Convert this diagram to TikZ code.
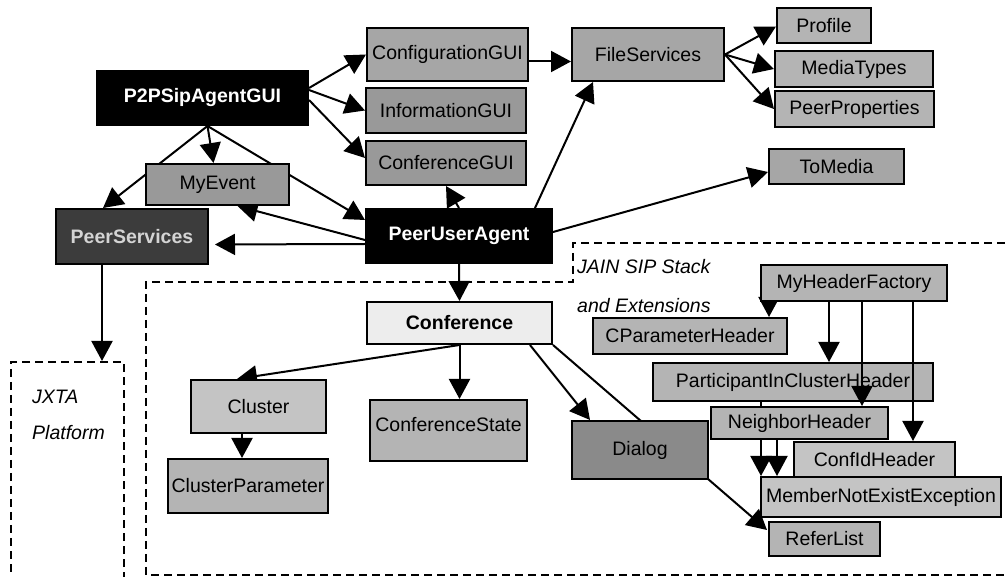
\documentclass[tikz,border=0pt]{standalone}
\usepackage{fontspec}
\setmainfont{Liberation Sans}
\usetikzlibrary{arrows.meta,calc}
\pgfdeclarelayer{background}
\pgfdeclarelayer{foreground}
\pgfsetlayers{background,main,foreground}
\newcommand\dfont{\fontsize{19.5}{23}\selectfont}
\definecolor{gA}{HTML}{A6A6A6}
\definecolor{gB}{HTML}{999999}
\definecolor{gC}{HTML}{B4B4B4}
\definecolor{gD}{HTML}{8A8A8A}
\definecolor{gE}{HTML}{C4C4C4}
\definecolor{gF}{HTML}{EDEDED}
\definecolor{gDark}{HTML}{3C3C3C}
\definecolor{gText}{HTML}{D4D4D4}
\tikzset{
  box/.style={draw=black, line width=2pt, rectangle, inner sep=0pt, font=\dfont},
  blackbox/.style={box, fill=black, text=white, font=\dfont\bfseries},
  arr/.style={-{Triangle[length=20pt,width=21pt]}, line width=2pt},
  dashbox/.style={line width=2pt, dash pattern=on 8pt off 5pt},
  note/.style={font=\dfont\itshape, anchor=west, inner sep=0pt}
}
\begin{document}
\begin{tikzpicture}[x=1pt,y=-1pt]
\useasboundingbox (0,0) rectangle (1005,577);

% GUI layer
\node[blackbox, minimum width=211, minimum height=54] (p2p) at (202.5,98) {P2PSipAgentGUI};
\node[box, fill=gA, minimum width=161, minimum height=53] (cfg) at (447.5,54.5) {ConfigurationGUI};
\node[box, fill=gB, minimum width=160, minimum height=45] (info) at (446,110.5) {InformationGUI};
\node[box, fill=gB, minimum width=160, minimum height=44] (confgui) at (446,163) {ConferenceGUI};
\node[box, fill=gA, minimum width=152, minimum height=53] (fs) at (648,54.5) {FileServices};
\node[box, fill=gC, minimum width=94, minimum height=35] (profile) at (824,25.5) {Profile};
\node[box, fill=gC, minimum width=158, minimum height=36] (media) at (854,69) {MediaTypes};
\node[box, fill=gC, minimum width=159, minimum height=36] (peerprop) at (854.5,109) {PeerProperties};
\node[box, fill=gA, minimum width=135, minimum height=35] (tomedia) at (836.5,166.5) {ToMedia};
\node[box, fill=gB, minimum width=143, minimum height=41] (myevent) at (217.5,184.5) {MyEvent};
\node[box, fill=gDark, text=gText, font=\dfont\bfseries, minimum width=152, minimum height=55] (peerserv) at (132,236.5) {PeerServices};
\node[blackbox, minimum width=186, minimum height=54] (pua) at (459,236) {PeerUserAgent};

% JXTA platform
\node[dashbox, draw, minimum width=113, minimum height=222] (jxta) at (67.5,473) {};
\node[note] (jxtaA) at (32,397) {JXTA};
\node[note] (jxtaB) at (32,433) {Platform};

% JAIN SIP stack and extensions
\node[note] (jainA) at (577,267) {JAIN SIP Stack};
\node[note] (jainB) at (577,306) {and Extensions};
\node[box, fill=gF, font=\dfont\bfseries, minimum width=185, minimum height=42] (conference) at (459.5,323) {Conference};
\node[box, fill=gE, minimum width=135, minimum height=53] (cluster) at (258.5,406.5) {Cluster};
\node[box, fill=gC, minimum width=160, minimum height=54] (clusterparam) at (248,486) {ClusterParameter};
\node[box, fill=gC, minimum width=157, minimum height=61] (confstate) at (448.5,430.5) {\raisebox{12pt}{ConferenceState}};
\node[box, fill=gD, minimum width=136, minimum height=58] (dialog) at (640,450) {Dialog};
\node[box, fill=gC, minimum width=186, minimum height=36] (mhf) at (854,283) {MyHeaderFactory};
\node[box, fill=gC, minimum width=194, minimum height=36] (cparam) at (690,336) {CParameterHeader};
\node[box, fill=gC, minimum width=280, minimum height=38] (pich) at (793,382) {ParticipantInClusterHeader};
\node[box, fill=gC, minimum width=177, minimum height=32] (neighbor) at (799.5,423) {NeighborHeader};
\node[box, fill=gE, minimum width=161, minimum height=35] (confid) at (874.5,459.5) {ConfIdHeader};
\node[box, fill=gE, minimum width=240, minimum height=40] (mnee) at (881,497) {MemberNotExistException};
\node[box, fill=gC, minimum width=111, minimum height=34] (referlist) at (824.5,539) {ReferList};

\coordinate (jainTR) at (1005,243);
\coordinate (jainBR) at (1005,575);

\begin{pgfonlayer}{background}
  \fill[white] (0,0) rectangle (1005,577);
  % package boundary
  \draw[dashbox] (jainTR) -- (573,243) -- (573,282) -- (146,282) -- (146,575) -- (jainBR);

  % GUI connectors
  \draw[arr] ([yshift=10]p2p.east) -- (cfg.west);
  \draw[arr] ([yshift=8]p2p.east) -- (info.west);
  \draw[arr] ([yshift=-2]p2p.east) -- ([yshift=5]confgui.west);
  \draw[arr] ([xshift=5]p2p.south) -- ([xshift=-4]myevent.north);
  \draw[arr] ([xshift=5]p2p.south) -- ([xshift=-29]peerserv.north);
  \draw[arr] ([xshift=5]p2p.south) -- ([yshift=-12]pua.north west);
  \draw[arr] ([yshift=-4]pua.west) -- ([xshift=20]myevent.south);
  \draw[arr, shorten >=6pt] ([yshift=-8]pua.west) -- ([yshift=-8]peerserv.east);
  \draw[arr] (pua.north) -- (confgui.south);
  \draw[arr] ([xshift=76]pua.north) -- ([xshift=-55]fs.south);
  \draw[arr] ([yshift=4]pua.east) -- ([yshift=-5.5]tomedia.west);
  \draw[arr] ([yshift=-7]cfg.east) -- ([yshift=-7]fs.west);
  \draw[arr] (fs.east) -- ([yshift=-1]profile.west);
  \draw[arr] (fs.east) -- (media.west);
  \draw[arr] (fs.east) -- (peerprop.west);
  \draw[arr] ([xshift=-30]peerserv.south) -- ([xshift=-30]peerserv.south |- jxta.north);

  % stack connectors
  \draw[arr] (pua.south) -- (conference.north);
  \draw[arr] (conference.south) -- ([xshift=-21.5]cluster.north);
  \draw[arr] (conference.south) -- (conference.south |- confstate.north);
  \draw[arr] ([xshift=70.5]conference.south) -- ([xshift=-50]dialog.north);
  \draw[arr] (conference.south east) -- ([xshift=-1,yshift=-9]referlist.north west);
  \draw[arr] ([xshift=-16.5]cluster.south) -- ([xshift=-16.5]cluster.south |- clusterparam.north);
  \draw[arr] ([xshift=9]mhf.south west) -- ([xshift=9]mhf.south west |- cparam.north);
  \draw[arr] ([xshift=109]pich.south west) -- ([xshift=109]pich.south west |- mnee.north);
  \draw[arr] ([xshift=67]neighbor.south west) -- ([xshift=67]neighbor.south west |- mnee.north);
\end{pgfonlayer}

\begin{pgfonlayer}{foreground}
  \draw[arr] ([xshift=-25]mhf.south) -- ([xshift=-25]mhf.south |- pich.north);
  \draw[arr] ([xshift=8]mhf.south) -- ([xshift=8]mhf.south |- neighbor.north);
  \draw[arr] ([xshift=59]mhf.south) -- ([xshift=59]mhf.south |- confid.north);
\end{pgfonlayer}
\end{tikzpicture}
\end{document}
